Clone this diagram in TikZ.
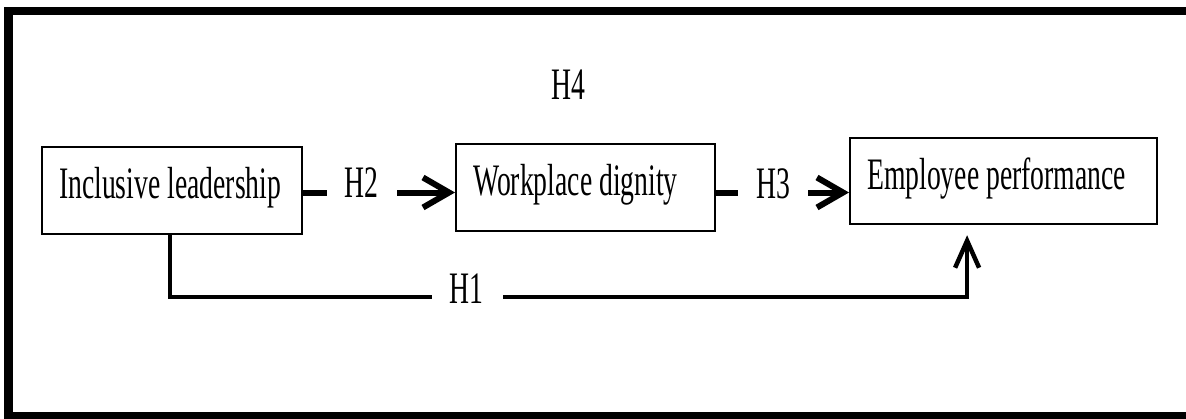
\documentclass[tikz,border=0pt]{standalone}
\usepackage{fontspec}
\setmainfont{Liberation Serif}[FakeStretch=0.615]
\usetikzlibrary{arrows.meta}
\newcommand\wsp{\hspace{7pt}}
\begin{document}
\begin{tikzpicture}[x=1pt,y=-1pt,
  every node/.style={font=\fontsize{45}{54}\selectfont},
  boxnode/.style={draw, line width=2.2pt, inner xsep=17pt, inner ysep=21pt,
    text height=30pt, text depth=15pt, align=left, anchor=north west},
  hlabel/.style={inner sep=0pt, anchor=base west},
  bar/.style={line width=6pt},
  arr/.style={line width=6pt, -{Straight Barb[length=26pt,width=30pt]}},
  pathline/.style={line width=4.5pt},
  uparr/.style={line width=4.5pt, -{Straight Barb[length=27pt,width=24pt]}}]
\useasboundingbox (0,0) rectangle (1186,418);
\fill[white] (0,0) rectangle (1186,418);
% outer frame (open at right)
\draw[line width=8.5pt] (1200,11) -- (8.5,11) -- (8.5,416) -- (1200,416);
% boxes
\node[boxnode, text width=226pt] (b1) at (41,146) {\mbox{Inclusive\wsp leadership}};
\node[boxnode, text width=225pt] (b2) at (455,143) {\mbox{Workplace\wsp dignity}};
\node[boxnode, text width=273pt, text depth=14pt] (b3) at (849,137) {\mbox{Employee\wsp performance}};
% labels
\node[hlabel] (h4) at (551,99) {H4};
\node[hlabel] (h2) at (344,197) {H2};
\node[hlabel] (h3) at (756,198) {H3};
\node[hlabel] (h1) at (449,303) {H1};
% coordinates for free ends
\coordinate (d2a) at (327,192.5);
\coordinate (d2b) at (397,192.5);
\coordinate (d3a) at (738,192.5);
\coordinate (d3b) at (808,192.5);
\coordinate (h1a) at (432,297);
\coordinate (h1b) at (503,297);
% H2
\draw[bar] (b1.east |- d2a) -- (d2a);
\draw[arr] (d2b) -- (b2.west |- d2b);
% H3
\draw[bar] (b2.east |- d3a) -- (d3a);
\draw[arr] (d3b) -- (b3.west |- d3b);
% H1
\draw[pathline] ([xshift=-2pt]b1.south) |- (h1a);
\draw[uparr] (h1b) -| ([xshift=-36.5pt,yshift=-10pt]b3.south);
\end{tikzpicture}
\end{document}
